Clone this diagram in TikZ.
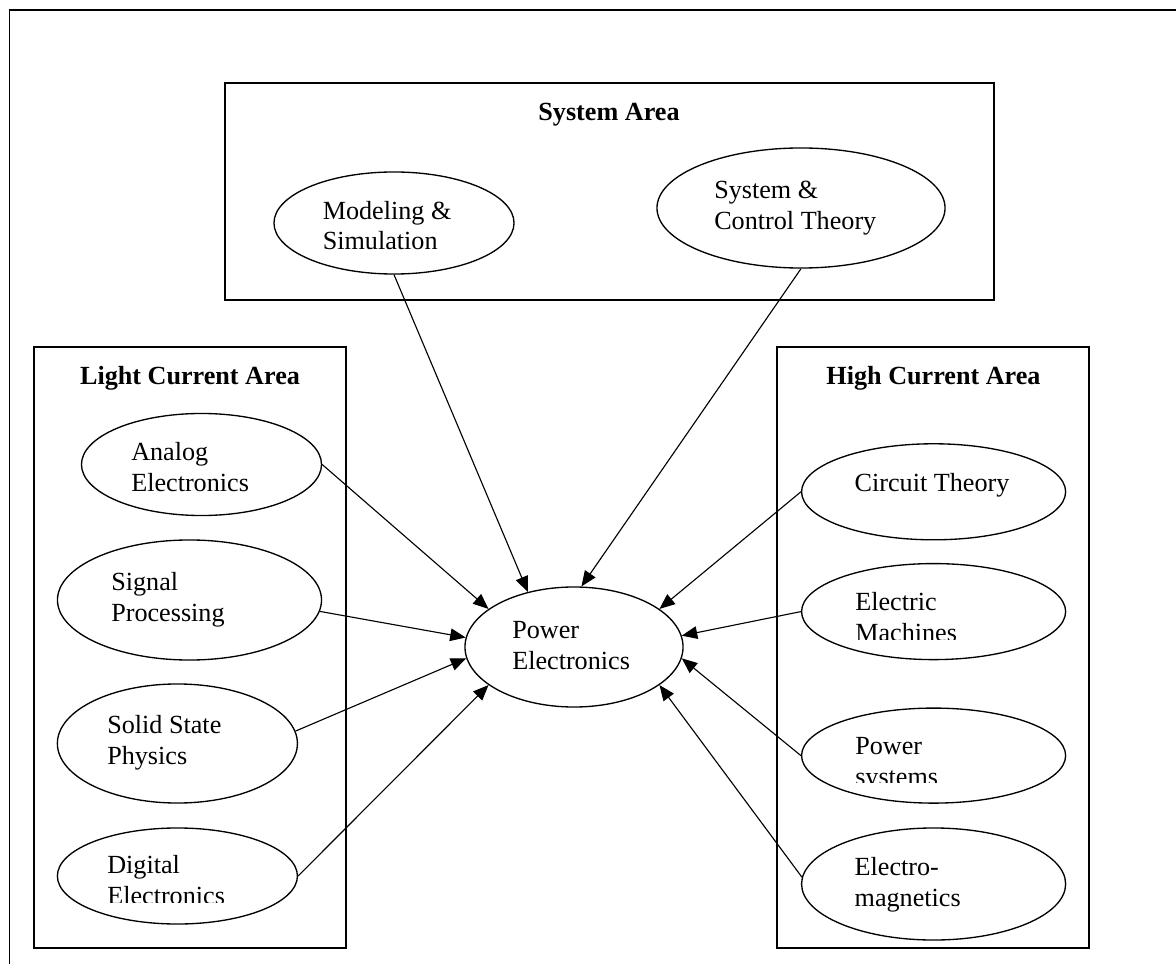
\documentclass[tikz,border=0pt]{standalone}
\usepackage{fontspec}
\setmainfont{Liberation Serif}
\usepackage{tikz}
\usetikzlibrary{shapes.geometric, arrows.meta, positioning}

\begin{document}
\begin{tikzpicture}[x=0.025cm, y=-0.025cm, font=\fontsize{18.6}{22}\selectfont,
    area/.style={rectangle, draw, line width=1.1pt, inner sep=0pt},
    topic/.style={ellipse, draw, line width=0.95pt, inner sep=0pt},
    lbl/.style={align=left, anchor=base west, inner sep=0pt},
    title/.style={anchor=base, inner sep=0pt, font=\fontsize{18.6}{22}\selectfont\bfseries},
    link/.style={-{Triangle[length=11pt, width=9pt]}, line width=0.8pt}]

    \useasboundingbox (0,0) rectangle (1176,964);
    % outer frame (cut at the right and bottom)
    \draw[line width=1.1pt] (1176,10) -- (9.5,10) -- (9.5,964);

    % the three areas
    \node (sysarea) [area, minimum width=19.225cm, minimum height=5.425cm] at (609.5,191.5) {};
    \node (lightarea) [area, minimum width=7.8cm, minimum height=15.025cm] at (190,647.5) {};
    \node (higharea) [area, minimum width=7.8cm, minimum height=15.025cm] at (933,647.5) {};
    \node (sysarea-t) [title] at (609,121) {System Area};
    \node (lightarea-t) [title] at (190,384.6) {Light Current Area};
    \node (higharea-t) [title] at (933.5,384.6) {High Current Area};

    % ellipses
    \node (model) [topic, minimum width=6cm, minimum height=2.55cm] at (394,223) {};
    \node (sysctl) [topic, minimum width=7.2cm, minimum height=3cm] at (801,208) {};
    \node (analog) [topic, minimum width=6cm, minimum height=2.55cm] at (201.5,464.5) {};
    \node (signal) [topic, minimum width=6.6cm, minimum height=3cm] at (189.5,600) {};
    \node (solid) [topic, minimum width=6cm, minimum height=2.975cm] at (177.4,743.5) {};
    \node (digital) [topic, minimum width=6cm, minimum height=2.4cm] at (177.4,876) {};
    \node (pe) [topic, minimum width=5.45cm, minimum height=3cm] at (574,647) {};
    \node (circuit) [topic, minimum width=6.6cm, minimum height=2.4cm] at (933.6,491.8) {};
    \node (machines) [topic, minimum width=6.6cm, minimum height=2.4cm] at (933.6,611.6) {};
    \node (psys) [topic, minimum width=6.6cm, minimum height=2.375cm] at (933.6,755.6) {};
    \node (emag) [topic, minimum width=6.6cm, minimum height=2.8cm] at (933.6,884) {};

    % texts (base anchor = baseline of the last line)
    \node (model-t) [lbl] at (322.5,250) {Modeling \&\\Simulation};
    \node (sysctl-t) [lbl] at (714,229.3) {System \&\\Control Theory};
    \node (analog-t) [lbl] at (131,491) {Analog\\Electronics};
    \node (signal-t) [lbl] at (111,621) {Signal\\Processing};
    \node (solid-t) [lbl] at (107,764.7) {Solid State\\Physics};
    \node (pe-t) [lbl] at (512,669) {Power\\Electronics};
    \node (circuit-t) [lbl] at (854.4,491.7) {Circuit Theory};
    \node (emag-t) [lbl] at (854.4,906) {Electro-\\magnetics};
    % text boxes too small: the last line is cut
    \begin{scope}
      \clip (60,840) rectangle (300,902);
      \node (digital-t) [lbl] at (107,904) {Digital\\Electronics};
    \end{scope}
    \begin{scope}
      \clip (810,580) rectangle (1060,639);
      \node (machines-t) [lbl] at (855,641) {Electric\\Machines};
    \end{scope}
    \begin{scope}
      \clip (810,720) rectangle (1060,782);
      \node (psys-t) [lbl] at (855,785) {Power\\systems};
    \end{scope}

    % connectors into Power Electronics
    \draw[link] (model.south) -- (pe.130);
    \draw[link] (sysctl.south) -- (pe.83);
    \draw[link] (analog.east) -- (pe.156);
    \draw[link] (signal.-5) -- (pe.175);
    \draw[link] (solid.6) -- (pe.186);
    \draw[link] (digital.east) -- (pe.204);
    \draw[link] (circuit.west) -- (pe.24);
    \draw[link] (machines.west) -- (pe.6);
    \draw[link] (psys.west) -- (pe.-6);
    \draw[link] (emag.177) -- (pe.-24);
\end{tikzpicture}
\end{document}
